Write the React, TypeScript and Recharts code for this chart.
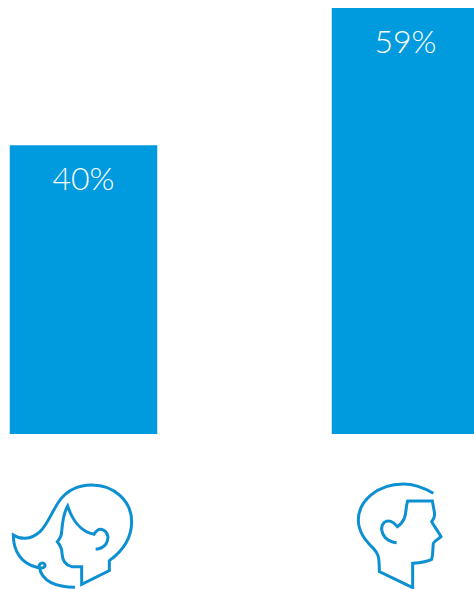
import React from 'react';
import { BarChart, Bar, XAxis, YAxis, LabelList } from 'recharts';

const categories = ['female', 'male'];
const shares = [40, 59];

const data = categories.map((name, i) => ({ name, value: shares[i] }));

const BLUE = '#009ade';
const ICON = '#0d90d2';

// outlines traced at 3x, so they get scaled down in the tick
const femalePaths = [
  'M225 352 C170 352 125 335 118 292 C114 276 136 276 135 287 C134 296 120 295 108 291 C65 280 40 245 40 195 C60 208 90 212 120 185 C145 160 155 125 180 90 C205 58 240 45 275 45 C345 45 395 95 395 155 C395 205 365 245 328 272 L328 302 L245 343 L245 290 L215 290 C195 285 187 270 186 250 C186 235 183 228 172 215 C180 205 185 200 185 185 C187 160 190 130 203 108 C215 145 240 185 282 193 C290 180 300 175 310 180 C325 188 328 205 318 222 C310 232 300 237 287 238',
];
const malePaths = [
  'M280 70 C250 52 220 42 190 42 C110 42 55 95 55 150 C55 185 75 210 100 235 C115 250 118 260 118 305 L218 353 L218 280 C240 278 260 276 275 268 C280 250 278 235 280 220 C285 210 295 208 303 200 C295 185 283 170 275 155 C282 145 285 140 283 125 L277 93 L203 93 C197 110 200 125 193 145 C187 158 180 165 172 170 C160 155 145 148 132 158 C120 170 125 190 135 202 C145 212 155 217 170 218',
];

const FaceTick = (props: any) => {
  const { x, y, payload } = props;
  const female = payload.value === 'female';
  const paths = female ? femalePaths : malePaths;
  // icon origin relative to the bar centre and the baseline
  const ox = female ? -83.75 : 340 - 405.75;
  return (
    <g transform={`translate(${x + ox},${y + 36}) scale(0.3333)`}>
      {paths.map((d, i) => (
        <path key={i} d={d} fill="none" stroke={ICON} strokeWidth={9} strokeLinejoin="miter" />
      ))}
    </g>
  );
};

export default function App() {
  return (
    <div style={{ position: 'absolute', left: 0, top: 0, width: 474, height: 589, overflow: 'hidden', background: '#fff' }}>
      <BarChart
        width={474}
        height={589}
        data={data}
        margin={{ top: 8, right: -92.75, bottom: 0, left: -77.25 }}
        barSize={147.5}
      >
        <XAxis dataKey="name" axisLine={false} tickLine={false} tickSize={0} tickMargin={0} height={155} tick={FaceTick} interval={0} />
        <YAxis hide domain={[0, 59]} />
        <Bar dataKey="value" fill={BLUE} isAnimationActive={false}>
          <LabelList
            dataKey="value"
            position="insideTop"
            offset={22}
            formatter={(v: any) => `${v}%`}
            style={{ fill: '#fff', fontFamily: 'Lato', fontWeight: 300, fontSize: 32 }}
          />
        </Bar>
      </BarChart>
    </div>
  );
}
